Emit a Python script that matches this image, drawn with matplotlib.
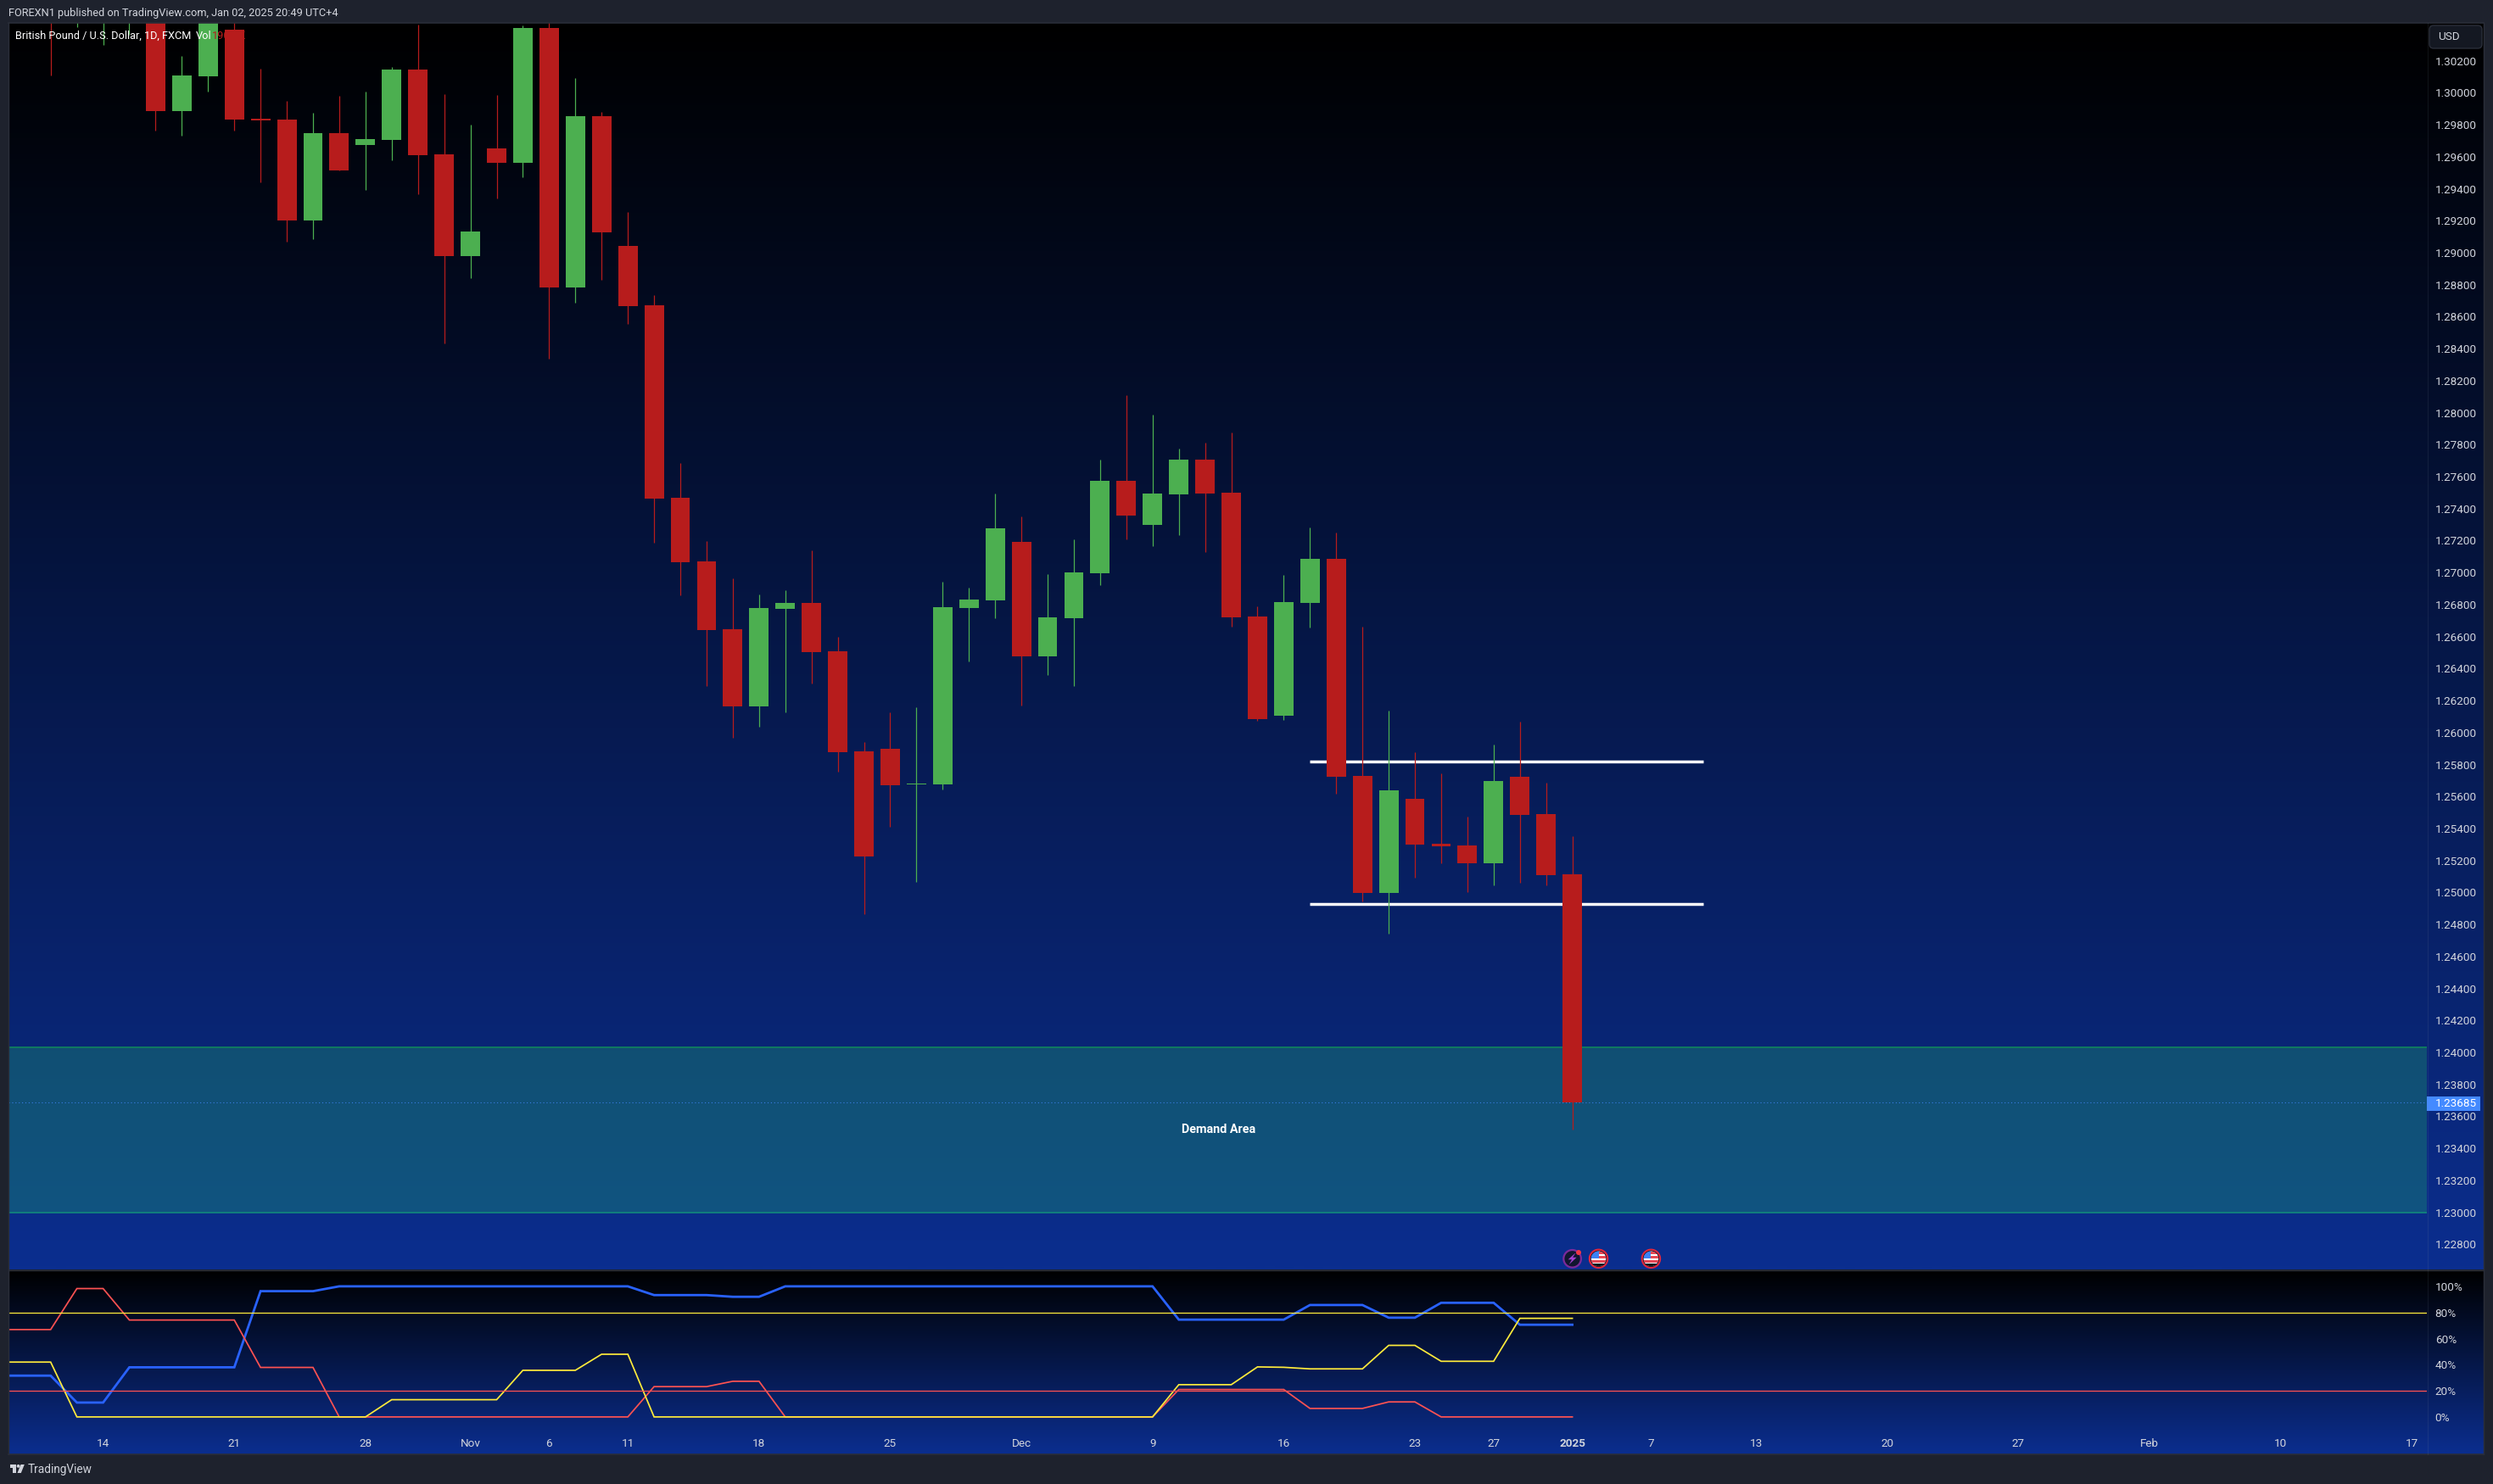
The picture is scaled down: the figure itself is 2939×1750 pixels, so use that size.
import numpy as np
import matplotlib
matplotlib.use("Agg")
import matplotlib.pyplot as plt
from matplotlib.colors import LinearSegmentedColormap
from matplotlib.patches import Circle, FancyBboxPatch, Polygon, Rectangle

# daily GBP/USD candles, first four bodies sit above the visible window
opens = [1.3060, 1.3050, 1.3055, 1.3050, 1.3055, 1.29887, 1.30103, 1.30395, 1.29838, 1.29833,
         1.29202, 1.29748, 1.29674, 1.29705, 1.30145, 1.29615, 1.28979, 1.29652, 1.29562, 1.30405,
         1.28783, 1.29854, 1.29043, 1.28671, 1.27468, 1.27070, 1.26646, 1.26163, 1.26773, 1.26810,
         1.26508, 1.25882, 1.25898, 1.25676, 1.25676, 1.26779, 1.26826, 1.27192, 1.26476, 1.26715,
         1.26996, 1.27574, 1.27298, 1.27489, 1.27706, 1.27500, 1.26725, 1.26105, 1.26810, 1.27086,
         1.25729, 1.24997, 1.25586, 1.25305, 1.25294, 1.25183, 1.25723, 1.25490, 1.25114]
closes = [1.3050, 1.3065, 1.3068, 1.3060, 1.29887, 1.30108, 1.3050, 1.29833, 1.29827, 1.29202,
          1.29748, 1.29514, 1.29711, 1.30145, 1.29610, 1.28979, 1.29133, 1.29562, 1.30405, 1.28783,
          1.29854, 1.29127, 1.28666, 1.27463, 1.27065, 1.26641, 1.26163, 1.26779, 1.26810, 1.26503,
          1.25877, 1.25225, 1.25670, 1.25681, 1.26784, 1.26832, 1.27277, 1.26476, 1.26720, 1.27001,
          1.27574, 1.27356, 1.27494, 1.27706, 1.27494, 1.26720, 1.26084, 1.26816, 1.27086, 1.25723,
          1.24997, 1.25639, 1.25299, 1.25289, 1.25183, 1.25697, 1.25485, 1.25108, 1.23685]
highs = [1.3070, 1.3070, 1.3075, 1.3070, 1.3070, 1.30230, 1.3060, 1.3052, 1.30151, 1.29949,
         1.29875, 1.29981, 1.30008, 1.30161, 1.30426, 1.29992, 1.29801, 1.29986, 1.30421, 1.3055,
         1.30092, 1.29880, 1.29255, 1.28735, 1.27685, 1.27197, 1.26964, 1.26863, 1.26890, 1.27139,
         1.26598, 1.25941, 1.26126, 1.26158, 1.26943, 1.26906, 1.27494, 1.27351, 1.26991, 1.27208,
         1.27706, 1.28109, 1.27987, 1.27775, 1.27812, 1.27876, 1.26789, 1.26985, 1.27282, 1.27250,
         1.26662, 1.26137, 1.25877, 1.25745, 1.25474, 1.25925, 1.26068, 1.25686, 1.25352]
lows = [1.30108, 1.30411, 1.30301, 1.30363, 1.29764, 1.29732, 1.30008, 1.29764, 1.29440, 1.29069,
        1.29085, 1.29514, 1.29392, 1.29578, 1.29366, 1.28433, 1.28841, 1.29340, 1.29472, 1.28337,
        1.28687, 1.28830, 1.28555, 1.27187, 1.26858, 1.26291, 1.25967, 1.26036, 1.26126, 1.26307,
        1.25755, 1.24864, 1.25411, 1.25066, 1.25644, 1.26444, 1.26715, 1.26169, 1.26360, 1.26291,
        1.26922, 1.27208, 1.27166, 1.27235, 1.27128, 1.26662, 1.26073, 1.26079, 1.26657, 1.25617,
        1.24944, 1.24743, 1.25092, 1.25183, 1.25002, 1.25045, 1.25061, 1.25045, 1.23520]

# stochastic style lines, start two bars before the first candle
blue_line = [31.6, 31.6, 31.6, 11, 11, 38, 38, 38, 38, 38, 96.3, 96.3, 96.3,
             100, 100, 100, 100, 100, 100, 100, 100, 100, 100, 100, 100,
             93.3, 93.3, 93.3, 92, 92,
             100, 100, 100, 100, 100, 100, 100, 100, 100, 100, 100, 100, 100, 100, 100,
             74.5, 74.5, 74.5, 74.5, 74.5, 85.7, 85.7, 85.7, 76, 76,
             87.4, 87.4, 87.4, 70.6, 70.6, 70.6]
red_line = [66.9, 66.9, 66.9, 98.3, 98.3, 74.2, 74.2, 74.2, 74.2, 74.2, 37.9, 37.9, 37.9,
            0, 0, 0, 0, 0, 0, 0, 0, 0, 0, 0, 0,
            23.2, 23.2, 23.2, 27.3, 27.3,
            0, 0, 0, 0, 0, 0, 0, 0, 0, 0, 0, 0, 0, 0, 0,
            21, 21, 21, 21, 21, 6.5, 6.5, 6.5, 11.5, 11.5,
            0, 0, 0, 0, 0, 0]
yellow_line = [42, 42, 42, 0, 0, 0, 0, 0, 0, 0, 0, 0, 0, 0, 0,
               13.2, 13.2, 13.2, 13.2, 13.2, 35.7, 35.7, 35.7, 48, 48,
               0, 0, 0, 0, 0, 0, 0, 0, 0, 0, 0, 0, 0, 0, 0, 0, 0, 0, 0, 0,
               24.7, 24.7, 24.7, 38.3, 38, 36.8, 36.8, 36.8, 54.8, 54.8,
               42.6, 42.6, 42.6, 75.5, 75.5, 75.5]

time_ticks = [2, 7, 12, 16, 19, 22, 27, 32, 37, 42, 47, 52, 55, 58, 61, 65, 70, 75, 80, 85, 90]
time_labels = ['14', '21', '28', 'Nov', '6', '11', '18', '25', 'Dec', '9', '16', '23', '27',
               '2025', '7', '13', '20', '27', 'Feb', '10', '17']
price_ticks = [1.228, 1.230, 1.232, 1.234, 1.236, 1.238, 1.240, 1.242, 1.244, 1.246, 1.248,
               1.250, 1.252, 1.254, 1.256, 1.258, 1.260, 1.262, 1.264, 1.266, 1.268, 1.270,
               1.272, 1.274, 1.276, 1.278, 1.280, 1.282, 1.284, 1.286, 1.288, 1.290, 1.292,
               1.294, 1.296, 1.298, 1.300, 1.302]
percent_ticks = [0, 20, 40, 60, 80, 100]

demand_low, demand_high = 1.2300, 1.2403
range_high, range_low = 1.2582, 1.2493
range_bars = [48, 63]
event_bars = [58, 59, 61]

W, H = 2939, 1750
BG = '#1e222d'
RED = '#b71c1c'
GREEN = '#4caf50'
TXT = '#d1d4dc'
plt.rcParams['font.family'] = ['Roboto', 'DejaVu Sans']


def px_axes(x0, y0, x1, y1, **kw):
    # axes from pixel box, y counted from the top of the picture
    return fig.add_axes([x0 / W, 1 - y1 / H, (x1 - x0) / W, (y1 - y0) / H], **kw)


fig = plt.figure(figsize=(W / 100, H / 100), dpi=100, facecolor=BG)

grad = LinearSegmentedColormap.from_list('pane', ['#000000', '#0b2e8f'])
ramp = np.linspace(0, 1, 512).reshape(-1, 1)
for box in [(10, 27, 2928, 1497.5), (10, 1497.5, 2928, 1715)]:
    bg = px_axes(*box)
    bg.imshow(ramp, aspect='auto', cmap=grad, interpolation='bilinear')
    bg.set_axis_off()

xlim = (-1.607, 90.57)

# price pane
ax = px_axes(10, 27, 2861, 1497.5)
ax.patch.set_alpha(0)
ax.set_xlim(*xlim)
ax.set_ylim(1.22640, 1.30437)
ax.axhspan(demand_low, demand_high, facecolor=(0.13, 0.69, 0.43, 0.30), edgecolor='none', zorder=1)
ax.axhline(demand_high, color='#118a5c', lw=1.1, zorder=1.5)
ax.axhline(demand_low, color='#128f7c', lw=1.1, zorder=1.5)
ax.axhline(closes[-1], color='#448aff', lw=0.8, ls=(0, (1, 2.5)), alpha=0.8, zorder=1.5)
ax.hlines([range_high, range_low], range_bars[0], range_bars[1], color='white', lw=2.5, zorder=2)
ax.text(44.5, 1.2352, 'Demand Area', color='white', fontsize=10.4, fontweight='bold',
        ha='center', va='center', zorder=3)

bars = np.arange(len(opens))
for i in bars:
    col = GREEN if closes[i] >= opens[i] else RED
    ax.vlines(i, lows[i], highs[i], color=col, lw=0.9, zorder=4)
    ax.bar(i, abs(closes[i] - opens[i]), bottom=min(opens[i], closes[i]), width=0.74,
           color=col, linewidth=0, zorder=5)

ax.yaxis.tick_right()
ax.set_yticks(price_ticks)
ax.set_yticklabels([f'{p:.5f}' for p in price_ticks])
ax.tick_params(axis='y', length=0, pad=7, labelsize=9.7, labelcolor=TXT)
ax.set_xticks([])
for s in ax.spines.values():
    s.set_visible(False)

# indicator pane
ind = px_axes(10, 1497.5, 2861, 1715)
ind.patch.set_alpha(0)
ind.set_xlim(*xlim)
ind.set_ylim(-28.64, 112.6)
ind_bars = np.arange(-2, 59)
ind.axhline(80, color='#ffeb3b', lw=0.9, zorder=3)
ind.axhline(20, color='#ff5252', lw=0.9, zorder=3)
ind.plot(ind_bars, blue_line, color='#2962ff', lw=2.0, solid_joinstyle='miter', zorder=2)
ind.plot(ind_bars, red_line, color='#ff5252', lw=1.25, solid_joinstyle='miter', zorder=2.2)
ind.plot(ind_bars, yellow_line, color='#ffeb3b', lw=1.25, solid_joinstyle='miter', zorder=2.4)
ind.yaxis.tick_right()
ind.set_yticks(percent_ticks)
ind.set_yticklabels([f'{p}%' for p in percent_ticks])
ind.tick_params(axis='y', length=0, pad=7, labelsize=9.7, labelcolor=TXT)
ind.set_xticks(time_ticks)
ind.set_xticklabels(time_labels)
ind.tick_params(axis='x', length=0, pad=-14, labelsize=9.7, labelcolor=TXT)
ind.get_xticklabels()[time_labels.index('2025')].set_fontweight('bold')
for s in ind.spines.values():
    s.set_visible(False)

# everything around the panes, in picture pixels
ov = fig.add_axes([0, 0, 1, 1], zorder=10)
ov.set_xlim(0, W)
ov.set_ylim(H, 0)
ov.set_axis_off()
ov.patch.set_alpha(0)

ov.plot([10, 2928], [26.5, 26.5], color='#2a2e39', lw=1.2)
ov.plot([10, 10], [26.5, 1715], color='#2a2e39', lw=1)
ov.plot([2928, 2928], [26.5, 1715], color='#2a2e39', lw=1)
ov.plot([10, 2928], [1715, 1715], color='#2a2e39', lw=1.2)
ov.plot([10, 2928], [1497.5, 1497.5], color='#2a2e39', lw=1)
ov.plot([2861.5, 2861.5], [27, 1715], color='#8f94a3', lw=0.7, alpha=0.12)

ov.text(10, 15.5, 'FOREXN1 published on TradingView.com, Jan 02, 2025 20:49 UTC+4', color=TXT,
        fontsize=9.2, va='center', ha='left')
ov.text(18, 42.7, 'British Pound / U.S. Dollar, 1D, FXCM', color='white', fontsize=9.2,
        va='center', ha='left')
ov.text(231, 42.7, 'Vol', color='white', fontsize=9.2, va='center', ha='left')
ov.text(250, 42.7, '190.4K', color=RED, fontsize=9.2, va='center', ha='left')

ov.add_patch(FancyBboxPatch((2867, 33), 56, 21, boxstyle='round,pad=3,rounding_size=5',
                            facecolor='#141822', edgecolor='#2a2e39', lw=1))
ov.text(2874, 43.5, 'USD', color=TXT, fontsize=9.7, va='center', ha='left')

ov.add_patch(Rectangle((2861, 1293), 62.6, 17, facecolor='#448aff', edgecolor='none'))
ov.text(2871, 1301.5, f'{closes[-1]:.5f}', color='white', fontsize=9.7, va='center', ha='left')


def event_x(bar):
    return ax.transData.transform((bar, 1.25))[0]


def flag(cx, cy):
    disc = Circle((cx, cy), 9, facecolor='white', edgecolor='none')
    ov.add_patch(disc)
    for top in (-8, -3, 2):
        r = Rectangle((cx - 10, cy + top), 20, 2.6, facecolor='#e84855', edgecolor='none')
        ov.add_patch(r)
        r.set_clip_path(disc)
    r = Rectangle((cx - 10, cy + 5.5), 20, 5, facecolor='#10131c', edgecolor='none')
    ov.add_patch(r)
    r.set_clip_path(disc)
    r = Rectangle((cx - 10, cy - 10), 10, 9.5, facecolor='#3b82f6', edgecolor='none')
    ov.add_patch(r)
    r.set_clip_path(disc)
    ov.add_patch(Circle((cx, cy), 9.8, facecolor='none', edgecolor='#10131c', lw=1.2))
    ov.add_patch(Circle((cx, cy), 10.7, facecolor='none', edgecolor='#e0273d', lw=1.5))


cy = 1484.3
cx = event_x(event_bars[0])
ov.add_patch(Circle((cx, cy), 10.3, facecolor='#10162f', edgecolor='#7b2a9b', lw=1.6))
ov.add_patch(Polygon([(cx + 4, cy - 7), (cx - 5, cy + 1), (cx - 0.5, cy + 1), (cx - 4, cy + 7),
                      (cx + 5, cy - 1.5), (cx + 0.5, cy - 1.5)], facecolor='#a23fd0', edgecolor='none'))
ov.add_patch(Circle((cx + 7.4, cy - 7.3), 3, facecolor='#f23645', edgecolor='none'))
flag(event_x(event_bars[1]), cy)
flag(event_x(event_bars[2]), cy)

# logo and footer
ov.add_patch(Polygon([(11.5, 1727), (19, 1727), (19, 1737), (15, 1737), (15, 1730.5), (11.5, 1730.5)],
                     facecolor=TXT, edgecolor='none'))
ov.add_patch(Circle((21.6, 1728.9), 1.9, facecolor=TXT, edgecolor='none'))
ov.add_patch(Polygon([(24.5, 1727), (28.8, 1727), (24.8, 1737), (20.5, 1737)], facecolor=TXT, edgecolor='none'))
ov.text(33, 1733, 'TradingView', color=TXT, fontsize=9.8, va='center', ha='left')

fig.savefig('out.png', dpi=100, facecolor=BG)
